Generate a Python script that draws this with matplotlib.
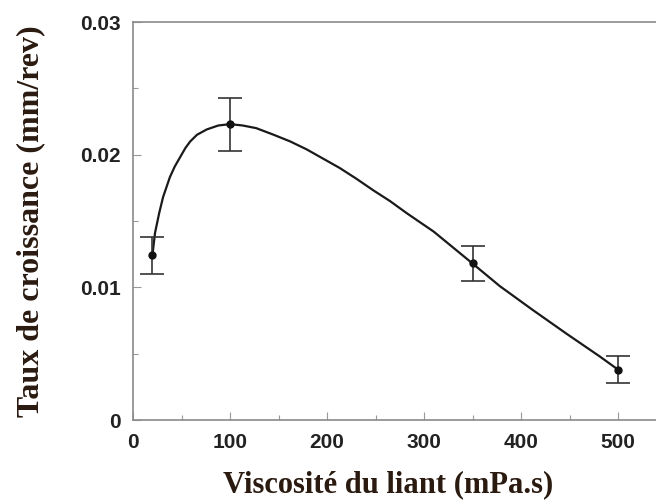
import matplotlib.pyplot as plt
from matplotlib.ticker import MultipleLocator, FixedFormatter, FixedLocator

# measured points (binder viscosity vs growth rate)
visc = [20, 100, 350, 500]
rate = [0.0124, 0.0223, 0.0118, 0.0038]
err = [0.0014, 0.0020, 0.0013, 0.0010]

# fitted trend curve
curve_x = [20, 22.7, 27, 31, 38, 43, 48.5, 54, 59, 66, 76, 88, 100, 113, 127,
           145, 162, 179, 196, 213, 230, 248, 265, 282, 310, 330, 350, 378,
           412, 447, 481, 500]
curve_y = [0.0124, 0.0141, 0.0156, 0.0168, 0.0183, 0.0191, 0.0198, 0.0205,
           0.0210, 0.0215, 0.0219, 0.0222, 0.0223, 0.0222, 0.0220, 0.0215,
           0.0210, 0.0204, 0.0197, 0.0190, 0.0182, 0.0173, 0.0165, 0.0156,
           0.0142, 0.0130, 0.0118, 0.0101, 0.0083, 0.0065, 0.0048, 0.0038]

x_ticks = [0, 100, 200, 300, 400, 500]
y_ticks = [0, 0.01, 0.02, 0.03]
y_tick_labels = ["0", "0.01", "0.02", "0.03"]

fig = plt.figure(figsize=(6.56, 5.04), dpi=100)
ax = fig.add_axes([133 / 656, 84 / 504, 533.5 / 656, 398 / 504])

ax.plot(curve_x, curve_y, color="#1a1a1a", linewidth=1.6)
ax.errorbar(visc, rate, yerr=err, fmt="o", color="#111111", ecolor="#333333",
            markersize=5, elinewidth=1.2, capsize=8.5, capthick=1.2)

ax.set_xlim(0, 550)
ax.set_ylim(0, 0.03)
ax.xaxis.set_major_locator(FixedLocator(x_ticks))
ax.xaxis.set_minor_locator(MultipleLocator(50))
ax.yaxis.set_major_locator(FixedLocator(y_ticks))
ax.yaxis.set_major_formatter(FixedFormatter(y_tick_labels))
ax.yaxis.set_minor_locator(MultipleLocator(0.005))

ax.tick_params(which="both", direction="in", color="#999999", width=0.8,
               labelsize=15, pad=9, labelcolor="#222222")
ax.tick_params(which="major", length=6)
ax.tick_params(which="minor", length=3.5)
for lab in ax.get_xticklabels() + ax.get_yticklabels():
    lab.set_family("Liberation Sans")
    lab.set_fontweight("bold")

ax.spines["right"].set_visible(False)
for s in ["left", "top", "bottom"]:
    ax.spines[s].set_color("#8a8a8a")
    ax.spines[s].set_linewidth(1.2)

ax.set_xlabel("Viscosité du liant (mPa.s)", family="Liberation Serif",
              fontweight="bold", fontsize=22, color="#2a1a10")
ax.xaxis.set_label_coords(255 / 533.5, -50 / 398)
ax.set_ylabel("Taux de croissance (mm/rev)", family="Liberation Serif",
              fontweight="bold", fontsize=23, color="#2a1a10")
ax.yaxis.set_label_coords(-88 / 533.5, 0.5)

fig.savefig("out.png", dpi=100)
